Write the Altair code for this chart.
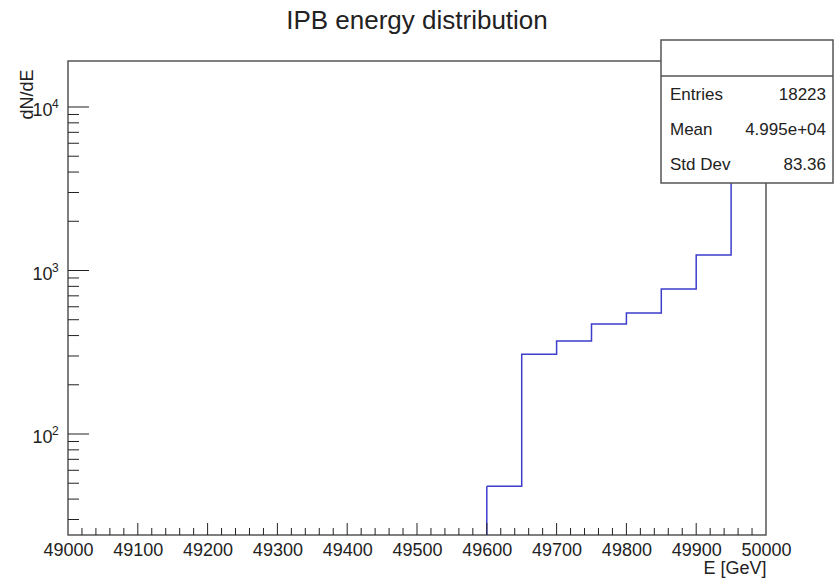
import altair as alt
import pandas as pd

# Histogram contents: 50 GeV bins, lower edges and entries
bin_lo = [49600, 49650, 49700, 49750, 49800, 49850, 49900, 49950]
counts = [48, 308, 371, 471, 550, 770, 1245, 14460]
bin_width = 50

x_range = [49000, 50000]
y_range = [24.12, 19110]

# Axis decorations
x_labels = list(range(49000, 50001, 100))
x_major = [v for v in range(49100, 50000, 100)]
x_minor = [v for v in range(49020, 50000, 20) if v % 100]
y_decades = [100, 1000, 10000]
y_exponents = ["2", "3", "4"]
y_minor = [m * d for d in [10, 100, 1000, 10000] for m in range(2, 10)
           if y_range[0] <= m * d <= y_range[1]]

# Statistics box
stat_names = ["Entries", "Mean", "Std Dev"]
stat_values = ["18223", "4.995e+04", "83.36"]

W, H = 698, 474
FONT = "Liberation Sans"
LINE = "#3d3dcc"
INK = "#222222"
FRAME = "#555555"

xscale = alt.Scale(domain=x_range, nice=False, zero=False)
yscale = alt.Scale(type="log", domain=y_range, nice=False)

xax = alt.Axis(values=x_labels, format="d", ticks=False, tickSize=0, domain=False,
               grid=False, labelFontSize=18, labelFont=FONT, labelColor=INK,
               labelPadding=6, labelFlush=False, labelOverlap=False,
               title="E [GeV]", titleFont=FONT, titleFontSize=18, titleFontWeight="normal",
               titleColor=INK, titleX=W, titleY=24, titleAlign="right",
               titleBaseline="top", titleAnchor="end")
yax = alt.Axis(labels=False, ticks=False, domain=False, grid=False,
               title="dN/dE", titleFont=FONT, titleFontSize=18, titleFontWeight="normal",
               titleColor=INK, titleAngle=-90, titleX=-36, titleY=8,
               titleAlign="right", titleBaseline="alphabetic", titleAnchor="end")

step_df = pd.DataFrame({
    "E": bin_lo + [bin_lo[-1] + bin_width],
    "N": counts + [counts[-1]],
})
first_df = pd.DataFrame({"E": bin_lo[:1], "N": counts[:1]})

step = alt.Chart(step_df).mark_line(interpolate="step-after", color=LINE, strokeWidth=1.5).encode(
    x=alt.X("E:Q", scale=xscale, axis=xax),
    y=alt.Y("N:Q", scale=yscale, axis=yax),
)
rise = alt.Chart(first_df).mark_rule(color=LINE, strokeWidth=1.5).encode(
    x=alt.X("E:Q", scale=xscale, axis=xax),
    y=alt.Y("N:Q", scale=yscale, axis=yax),
    y2=alt.value(H),
)

# Inward-pointing ticks, as drawn by ROOT
def xticks(vals, length):
    return alt.Chart(pd.DataFrame({"E": vals})).mark_rule(color=INK, strokeWidth=1).encode(
        x=alt.X("E:Q", scale=xscale, axis=xax),
        y=alt.value(H), y2=alt.value(H - length),
    )

def yticks(vals, length):
    return alt.Chart(pd.DataFrame({"N": vals})).mark_rule(color=INK, strokeWidth=1).encode(
        y=alt.Y("N:Q", scale=yscale, axis=yax),
        x=alt.value(0), x2=alt.value(length),
    )

dec_df = pd.DataFrame({"N": y_decades, "base": ["10"] * 3, "exp": y_exponents})
ybase = alt.Chart(dec_df).mark_text(font=FONT, fontSize=18, color=INK, align="right",
                                    baseline="middle", dy=4).encode(
    y=alt.Y("N:Q", scale=yscale, axis=yax), x=alt.value(-15.5), text="base:N")
yexp = alt.Chart(dec_df).mark_text(font=FONT, fontSize=12, color=INK, align="left",
                                   baseline="middle", dy=-3).encode(
    y=alt.Y("N:Q", scale=yscale, axis=yax), x=alt.value(-16), text="exp:N")

one = pd.DataFrame({"k": [0]})
title = alt.Chart(one).mark_text(font=FONT, fontSize=26, color=INK, align="center",
                                 baseline="middle").encode(
    x=alt.value(W / 2), y=alt.value(-40), text=alt.value("IPB energy distribution"))

box = alt.Chart(one).mark_rect(fill="white", stroke=FRAME, strokeWidth=1.5).encode(
    x=alt.value(593), x2=alt.value(765), y=alt.value(-21), y2=alt.value(122))
box_rule = alt.Chart(one).mark_rule(color=FRAME, strokeWidth=1.5).encode(
    x=alt.value(593), x2=alt.value(765), y=alt.value(15))

stat_layers = []
for i, (name, val) in enumerate(zip(stat_names, stat_values)):
    yy = 34 + 35 * i
    stat_layers.append(alt.Chart(one).mark_text(font=FONT, fontSize=17, color=INK, align="left",
                                                baseline="middle").encode(
        x=alt.value(602), y=alt.value(yy), text=alt.value(name)))
    stat_layers.append(alt.Chart(one).mark_text(font=FONT, fontSize=17, color=INK, align="right",
                                                baseline="middle").encode(
        x=alt.value(758), y=alt.value(yy), text=alt.value(val)))

chart = alt.layer(
    step, rise,
    xticks(x_major, 12), xticks(x_minor, 7),
    yticks(y_decades, 21), yticks(y_minor, 11),
    ybase, yexp, title, box, box_rule, *stat_layers,
).properties(
    width=W, height=H,
    autosize=alt.AutoSizeParams(type="none"),
    padding={"left": 68, "top": 61, "right": 68, "bottom": 44},
    background="white",
).configure_view(stroke=FRAME, strokeWidth=1.5)

chart.save("out.html", embed_options={"renderer": "svg", "actions": False})
